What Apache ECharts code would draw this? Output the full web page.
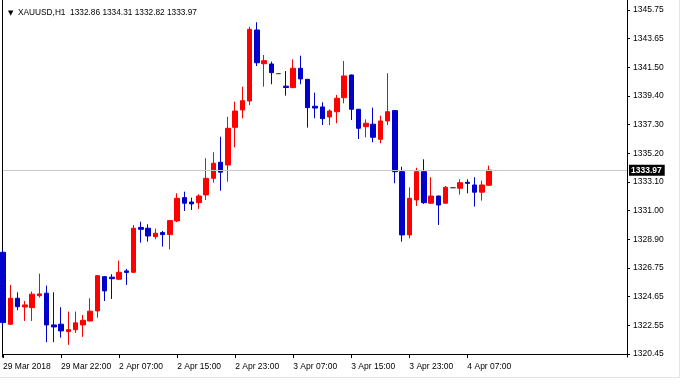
<!DOCTYPE html>
<html><head><meta charset="utf-8">
<script src="https://cdn.jsdelivr.net/npm/echarts/dist/echarts.min.js"></script>
<style>html,body{margin:0;padding:0;background:#fff;}#c{width:684px;height:388px;}</style>
</head><body><div id="c"></div>
<script>
const symbol = 'XAUUSD,H1';
const times = [
'2018-03-29 14:00','2018-03-29 15:00','2018-03-29 16:00','2018-03-29 17:00','2018-03-29 18:00','2018-03-29 19:00','2018-03-29 20:00','2018-03-29 21:00','2018-03-29 22:00','2018-03-29 23:00',
'2018-04-02 01:00','2018-04-02 02:00','2018-04-02 03:00','2018-04-02 04:00','2018-04-02 05:00','2018-04-02 06:00','2018-04-02 07:00','2018-04-02 08:00','2018-04-02 09:00','2018-04-02 10:00',
'2018-04-02 11:00','2018-04-02 12:00','2018-04-02 13:00','2018-04-02 14:00','2018-04-02 15:00','2018-04-02 16:00','2018-04-02 17:00','2018-04-02 18:00','2018-04-02 19:00','2018-04-02 20:00',
'2018-04-02 21:00','2018-04-02 22:00','2018-04-02 23:00',
'2018-04-03 00:00','2018-04-03 01:00','2018-04-03 02:00','2018-04-03 03:00','2018-04-03 04:00','2018-04-03 05:00','2018-04-03 06:00','2018-04-03 07:00','2018-04-03 08:00','2018-04-03 09:00',
'2018-04-03 10:00','2018-04-03 11:00','2018-04-03 12:00','2018-04-03 13:00','2018-04-03 14:00','2018-04-03 15:00','2018-04-03 16:00','2018-04-03 17:00','2018-04-03 18:00','2018-04-03 19:00',
'2018-04-03 20:00','2018-04-03 21:00','2018-04-03 22:00','2018-04-03 23:00',
'2018-04-04 00:00','2018-04-04 01:00','2018-04-04 02:00','2018-04-04 03:00','2018-04-04 04:00','2018-04-04 05:00','2018-04-04 06:00','2018-04-04 07:00','2018-04-04 08:00','2018-04-04 09:00','2018-04-04 10:00'
];
const opens = [
1327.93,1322.64,1324.55,1323.91,1323.86,1324.74,1324.92,1322.59,1322.64,1322.10,
1322.24,1322.59,1322.88,1323.62,1326.14,1326.10,1325.95,1326.56,1326.46,1329.76,
1329.70,1329.08,1329.38,1329.23,1330.24,1331.95,1331.63,1331.58,1332.15,1333.37,
1334.55,1334.35,1337.12,1338.40,1339.06,1344.28,1341.80,1341.78,1341.07,1340.15,
1340.04,1341.46,1340.65,1338.67,1338.62,1337.88,1338.27,1339.30,1340.97,1338.45,
1337.17,1337.35,1336.24,1337.59,1338.35,1333.86,1329.21,1331.78,1333.86,1331.54,
1332.07,1331.54,1332.68,1332.64,1333.08,1332.88,1332.35,1332.86
];
const highs = [
1328.10,1325.53,1324.99,1324.35,1325.04,1326.36,1325.48,1324.99,1323.89,1323.57,
1323.57,1323.32,1324.55,1326.25,1326.16,1326.32,1327.32,1326.71,1329.94,1330.18,
1329.99,1329.67,1329.50,1330.31,1332.27,1332.39,1331.95,1332.20,1334.85,1335.29,
1336.43,1337.90,1339.01,1340.11,1344.52,1344.85,1342.44,1341.95,1341.07,1341.26,
1342.12,1342.39,1340.68,1339.67,1338.96,1338.45,1339.50,1342.00,1341.00,1338.47,
1337.71,1338.57,1337.98,1341.10,1338.38,1334.23,1332.71,1334.15,1334.77,1333.45,
1332.09,1332.81,1332.68,1333.30,1333.30,1333.45,1333.20,1334.31
];
const lows = [
1322.51,1322.60,1323.67,1322.88,1322.88,1324.60,1321.32,1321.32,1321.65,1321.12,
1322.00,1321.71,1322.85,1323.12,1324.35,1324.50,1325.90,1325.53,1326.40,1328.64,
1328.71,1328.89,1328.35,1328.15,1330.15,1330.97,1331.04,1331.12,1331.78,1333.05,
1332.46,1333.12,1335.65,1337.79,1338.76,1341.63,1340.11,1340.29,1341.07,1339.45,
1340.00,1340.29,1337.10,1337.79,1337.29,1337.29,1337.42,1338.89,1337.66,1336.26,
1336.39,1336.02,1335.95,1337.29,1333.01,1328.71,1328.96,1331.34,1331.49,1331.49,
1329.94,1331.49,1332.68,1332.17,1332.27,1331.29,1331.73,1332.82
];
const closes = [
1322.76,1324.55,1323.93,1324.06,1324.85,1324.87,1322.59,1322.44,1322.15,1322.24,
1322.74,1322.93,1323.60,1326.21,1325.09,1325.99,1326.46,1326.45,1329.70,1329.62,
1329.13,1329.33,1329.23,1330.26,1331.90,1331.54,1331.49,1332.07,1333.37,1334.48,
1333.82,1337.05,1338.32,1339.08,1344.33,1341.87,1342.02,1341.14,1341.07,1340.05,
1341.46,1340.68,1338.57,1338.54,1337.76,1338.32,1339.26,1340.90,1338.45,1337.05,
1337.42,1336.39,1337.59,1338.27,1333.86,1329.21,1331.90,1333.86,1331.58,1332.07,
1331.41,1332.71,1332.68,1333.05,1333.00,1332.35,1332.88,1333.97
];
const yTickLabels = ['1320.45','1322.55','1324.65','1326.75','1328.90','1331.00','1333.10','1335.20','1337.30','1339.40','1341.50','1343.65','1345.75'];
const currentPrice = 1333.97;

const months = ['Jan','Feb','Mar','Apr','May','Jun','Jul','Aug','Sep','Oct','Nov','Dec'];
const yMin = parseFloat(yTickLabels[0]);
const yMax = parseFloat(yTickLabels[yTickLabels.length - 1]);
const STEP = (yMax - yMin) / (yTickLabels.length - 1);
const toU = p => (p - yMin) / STEP;
const RIGHT_SLOTS = 19;
const cats = times.concat(Array.from({length: RIGHT_SLOTS}, (_, i) => '_' + i));
const labelEvery = 8;
const showIdx = (i) => i % labelEvery === 0 && i < times.length;
function fmtTime(v, i) {
  if (v.charAt(0) === '_') return '';
  const d = parseInt(v.slice(8, 10), 10), m = months[parseInt(v.slice(5, 7), 10) - 1];
  if (i === 0) return d + ' ' + m + ' ' + v.slice(0, 4);
  return d + ' ' + m + ' ' + v.slice(11, 16);
}
const candleData = times.map((t, i) => {
  const o = opens[i], c = closes[i];
  const item = {value: [toU(o), toU(c), toU(lows[i]), toU(highs[i])]};
  if (o === c) item.itemStyle = {color: '#404040', color0: '#404040', borderColor: '#404040', borderColor0: '#404040'};
  return item;
});
const last = times.length - 1;
const headerVals = [opens[last], highs[last], lows[last], closes[last]].map(v => v.toFixed(2)).join(' ');
const FONT = 'Liberation Sans';

const chart = echarts.init(document.getElementById('c'), null, {renderer: 'canvas'});
chart.setOption({
  animation: false,
  backgroundColor: '#fff',
  title: {
    text: '{t|▼}  ' + symbol + '  ' + headerVals,
    left: 3, top: 4,
    textStyle: {fontSize: 8.3, fontWeight: 'normal', color: '#000', fontFamily: FONT,
      rich: {t: {fontSize: 7, color: '#000', fontFamily: 'DejaVu Sans'}}}
  },
  grid: {left: 2, right: 57, top: 10, bottom: 34},
  xAxis: {
    type: 'category', data: cats, boundaryGap: false, offset: 3,
    axisLine: {show: true, lineStyle: {color: '#000', width: 1}},
    axisTick: {show: true, interval: (i) => showIdx(i), length: 4, lineStyle: {color: '#000'}},
    axisLabel: {interval: (i) => showIdx(i), formatter: fmtTime, align: 'left', margin: 5,
      fontSize: 8.5, color: '#000', fontFamily: FONT, padding: [0, 0, 0, 0]},
    splitLine: {show: false}
  },
  yAxis: {
    type: 'value', position: 'right', min: 0, max: yTickLabels.length - 1, interval: 1,
    axisLine: {show: false},
    axisTick: {show: true, length: 3, lineStyle: {color: '#000'}},
    axisLabel: {formatter: (v) => yTickLabels[Math.round(v)], margin: 6, fontSize: 8.5, color: '#000', fontFamily: FONT},
    splitLine: {show: false}
  },
  series: [
    {
      type: 'line', data: [], z: 1, silent: true, symbol: 'none',
      markLine: {
        symbol: 'none', silent: true, animation: false,
        lineStyle: {color: '#c8c8c8', type: 'solid', width: 1},
        label: {show: true, position: 'end', distance: 2, formatter: currentPrice.toFixed(2),
          backgroundColor: '#000', color: '#fff', fontSize: 8.5, fontWeight: 'bold', fontFamily: FONT,
          padding: [1, 3, 1, 2]},
        emphasis: {disabled: true},
        data: [{yAxis: toU(currentPrice)}]
      }
    },
    {
      type: 'candlestick', data: candleData, barWidth: 5, clip: false, z: 3, silent: true,
      itemStyle: {color: '#ff0000', color0: '#0000cd', borderColor: '#ff0000', borderColor0: '#0000cd', borderWidth: 1}
    }
  ],
  graphic: [
    {type: 'line', silent: true, shape: {x1: 2.5, y1: 0, x2: 2.5, y2: 357.5}, style: {stroke: '#000', lineWidth: 1}},
    {type: 'line', silent: true, shape: {x1: 627.5, y1: 0, x2: 627.5, y2: 357.5}, style: {stroke: '#000', lineWidth: 1}},
    {type: 'line', silent: true, shape: {x1: 679.5, y1: 0, x2: 679.5, y2: 378}, style: {stroke: '#e4e4e4', lineWidth: 1}},
    {type: 'line', silent: true, shape: {x1: 0, y1: 377.5, x2: 680, y2: 377.5}, style: {stroke: '#e4e4e4', lineWidth: 1}}
  ]
});
</script>
</body></html>
